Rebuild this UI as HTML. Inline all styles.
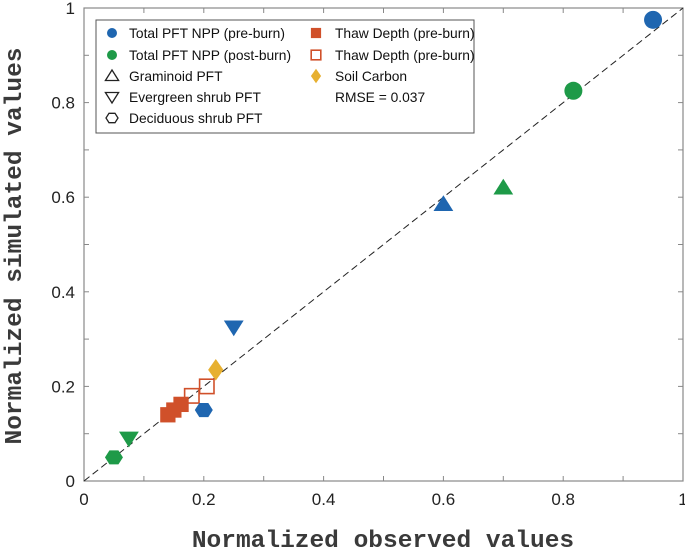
<!DOCTYPE html>
<html><head><meta charset="utf-8"><style>
body{margin:0;background:#fff;}
svg{display:block;font-family:"Liberation Sans",sans-serif;}
</style></head><body>
<svg id="chart" width="685" height="551" viewBox="0 0 685 551">
<g id="axes"></g>
<g id="marks"></g>
<g id="legend"></g>
<text x="383" y="547" text-anchor="middle" font-family="Liberation Mono, monospace" font-weight="bold" font-size="24.5" fill="#3a3a3a">Normalized observed values</text>
<text transform="translate(21,246) rotate(-90)" text-anchor="middle" font-family="Liberation Mono, monospace" font-weight="bold" font-size="24.5" fill="#3a3a3a">Normalized simulated values</text>
</svg>
<script>
const xTicks=[0,0.2,0.4,0.6,0.8,1];
const yTicks=[0,0.2,0.4,0.6,0.8,1];
const tickLabels=['0','0.2','0.4','0.6','0.8','1'];
const pointObs=[0.95,0.817,0.6,0.7,0.25,0.22,0.205,0.18,0.14,0.15,0.162,0.2,0.075,0.05];
const pointSim=[0.975,0.825,0.585,0.62,0.325,0.235,0.2,0.18,0.14,0.15,0.162,0.15,0.09,0.05];
const pointShape=['circle','circle','tri','tri','tridown','diamond','opensq','opensq','square','square','square','hex','tridown','hex'];
const pointColor=['#1f66b0','#1e9a48','#1f66b0','#1e9a48','#1f66b0','#e7b030','#d0502a','#d0502a','#d0502a','#d0502a','#d0502a','#1f66b0','#1e9a48','#1e9a48'];
const X0=84,X1=683,Y0=481,Y1=8;
const sx=v=>X0+v*(X1-X0), sy=v=>Y0-v*(Y0-Y1);
const NS='http://www.w3.org/2000/svg';
function mk(tag,attrs,parent){const e=document.createElementNS(NS,tag);for(const k in attrs)e.setAttribute(k,attrs[k]);parent.appendChild(e);return e;}
const axes=document.getElementById('axes');
const frame=mk('rect',{x:X0,y:Y1,width:X1-X0,height:Y0-Y1,fill:'none',stroke:'#888','stroke-width':1.2},axes);


for(let i=0;i<=10;i++){const v=i/10;
 mk('line',{x1:sx(v),x2:sx(v),y1:Y0,y2:Y0-5,stroke:'#888'},axes);
 mk('line',{x1:sx(v),x2:sx(v),y1:Y1,y2:Y1+5,stroke:'#888'},axes);
 mk('line',{x1:X0,x2:X0+5,y1:sy(v),y2:sy(v),stroke:'#888'},axes);
 mk('line',{x1:X1,x2:X1-5,y1:sy(v),y2:sy(v),stroke:'#888'},axes);}
xTicks.forEach((v,i)=>{const t=mk('text',{x:sx(v),y:Y0+24,'text-anchor':'middle','font-size':17,fill:'#222'},axes);t.textContent=tickLabels[i];
 
 });
yTicks.forEach((v,i)=>{const t=mk('text',{x:X0-9,y:sy(v)+6,'text-anchor':'end','font-size':17,fill:'#222'},axes);t.textContent=tickLabels[i];
 
 });
const diag=mk('line',{x1:sx(0),y1:sy(0),x2:sx(1),y2:sy(1),stroke:'#222','stroke-width':1,'stroke-dasharray':'7,4'},axes);


function marker(shape,cx,cy,r,color,parent){
 let e;
 if(shape==='circle')e=mk('circle',{cx,cy,r,fill:color},parent);
 else if(shape==='tri')e=mk('polygon',{points:`${cx},${cy-r} ${cx-r*1.1},${cy+r*0.75} ${cx+r*1.1},${cy+r*0.75}`,fill:color},parent);
 else if(shape==='tridown')e=mk('polygon',{points:`${cx},${cy+r} ${cx-r*1.1},${cy-r*0.75} ${cx+r*1.1},${cy-r*0.75}`,fill:color},parent);
 else if(shape==='diamond')e=mk('polygon',{points:`${cx},${cy-r*1.2} ${cx+r*0.85},${cy} ${cx},${cy+r*1.2} ${cx-r*0.85},${cy}`,fill:color},parent);
 else if(shape==='square')e=mk('rect',{x:cx-r*0.85,y:cy-r*0.85,width:r*1.7,height:r*1.7,fill:color},parent);
 else if(shape==='opensq')e=mk('rect',{x:cx-r*0.8,y:cy-r*0.8,width:r*1.6,height:r*1.6,fill:'none',stroke:color,'stroke-width':1.6},parent);
 else if(shape==='hex'){let p=[];for(let k=0;k<6;k++){const a=Math.PI/3*k;p.push((cx+r*Math.cos(a))+','+(cy+r*0.9*Math.sin(a)));}
  e=mk('polygon',{points:p.join(' '),fill:color},parent);}
 else if(shape==='otri')e=mk('polygon',{points:`${cx},${cy-r} ${cx-r*1.1},${cy+r*0.75} ${cx+r*1.1},${cy+r*0.75}`,fill:'none',stroke:color,'stroke-width':1.3},parent);
 else if(shape==='otridown')e=mk('polygon',{points:`${cx},${cy+r} ${cx-r*1.1},${cy-r*0.75} ${cx+r*1.1},${cy-r*0.75}`,fill:'none',stroke:color,'stroke-width':1.3},parent);
 else if(shape==='ohex'){let p=[];for(let k=0;k<6;k++){const a=Math.PI/3*k;p.push((cx+r*Math.cos(a))+','+(cy+r*0.9*Math.sin(a)));}
  e=mk('polygon',{points:p.join(' '),fill:'none',stroke:color,'stroke-width':1.3},parent);}
 return e;}
const marks=document.getElementById('marks');
pointObs.forEach((v,i)=>{const e=marker(pointShape[i],sx(v),sy(pointSim[i]),9,pointColor[i],marks);
 
 });
const leg=document.getElementById('legend');
const lb=mk('rect',{x:96,y:20,width:378,height:113,fill:'#fff',stroke:'#555','stroke-width':1},leg);


const legItems=[
 [108,32,'circle','#1f66b0','Total PFT NPP (pre-burn)'],
 [108,54,'circle','#1e9a48','Total PFT NPP (post-burn)'],
 [108,75,'otri','#222','Graminoid PFT'],
 [108,96,'otridown','#222','Evergreen shrub PFT'],
 [108,117,'ohex','#222','Deciduous shrub PFT'],
 [312,32,'square','#d0502a','Thaw Depth (pre-burn)'],
 [312,54,'opensq','#d0502a','Thaw Depth (pre-burn)'],
 [312,75,'diamond','#e7b030','Soil Carbon'],
 [312,96,null,null,'RMSE = 0.037']];
legItems.forEach(it=>{
 if(it[2]){const m=marker(it[2],it[0]+4,it[1]+1,it[2]==='circle'?5:6,it[3],leg);
  
  }
 const t=mk('text',{x:it[0]+21+(it[0]>300?2:0),y:it[1]+6,'font-size':13.8,fill:'#111'},leg);t.textContent=it[4];
 
 });
</script>
</body></html>
